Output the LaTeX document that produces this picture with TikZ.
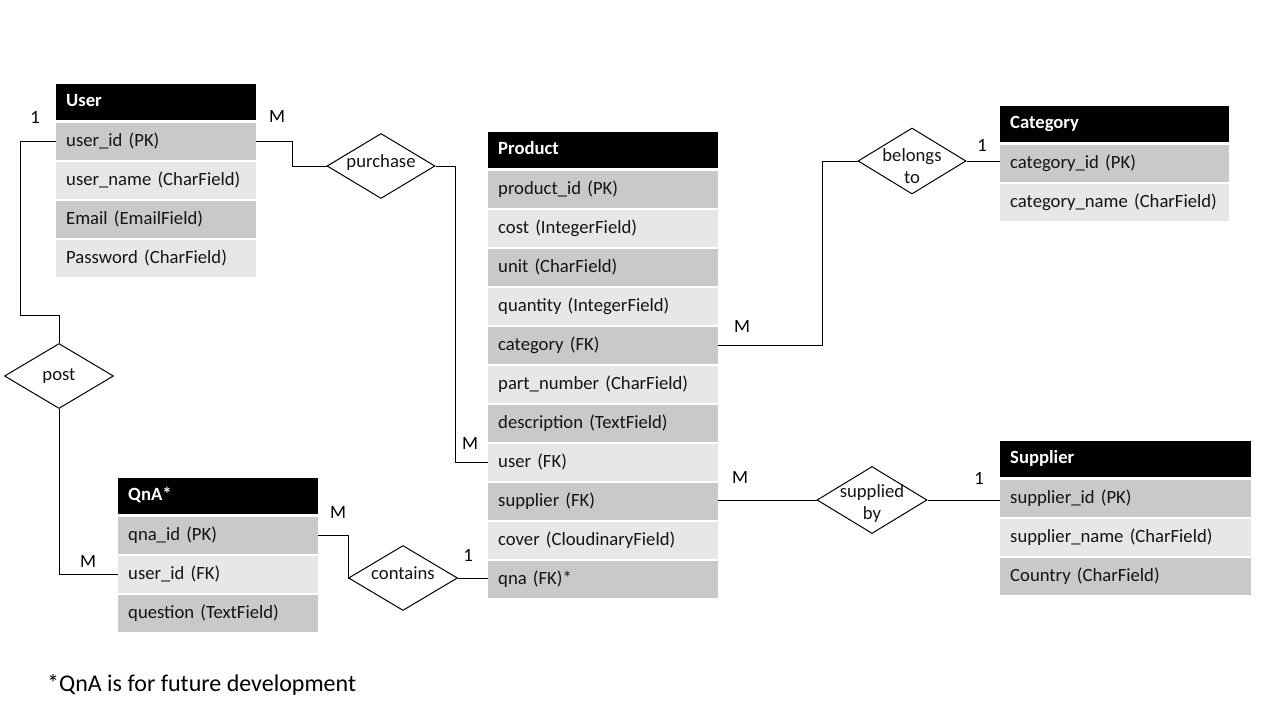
\documentclass[tikz,border=0pt]{standalone}
\usepackage{fontspec}
\setmainfont{Carlito}
\usetikzlibrary{shapes.geometric,calc}
\definecolor{rowdark}{RGB}{201,201,201}
\definecolor{rowlight}{RGB}{231,231,231}
\definecolor{txt}{RGB}{20,20,20}
\begin{document}
\begin{tikzpicture}[x=1pt,y=-1pt,
  font=\fontsize{18.67}{22}\selectfont,
  cell/.style={anchor=north west, inner xsep=10pt, inner ysep=0pt, minimum height=37pt,
    text height=13pt, text depth=4pt, align=left, text=txt},
  hdr/.style={cell, fill=black, text=white, font=\fontsize{18.67}{22}\selectfont\bfseries, minimum height=36pt},
  dk/.style={cell, fill=rowdark},
  lt/.style={cell, fill=rowlight},
  wuser/.style={text width=180pt},
  wprod/.style={text width=210pt},
  wcat/.style={text width=209pt},
  wsup/.style={text width=231pt},
  wqna/.style={text width=180pt},
  rel/.style={diamond, draw=black, line width=1pt, fill=white, inner sep=0pt},
  rlabel/.style={align=center, text=txt},
  conn/.style={draw=black, line width=1pt},
  card/.style={text=black}
]
\useasboundingbox (0,0) rectangle (1280,720);

% User
\node[hdr,wuser] (user) at (56,84) {User};
\node[dk,wuser] (uid) at (56,123) {user\_id (PK)};
\node[lt,wuser] (uname) at (56,162) {user\_name (CharField)};
\node[dk,wuser] (umail) at (56,201) {Email (EmailField)};
\node[lt,wuser] (upass) at (56,240) {Password (CharField)};

% Product
\node[hdr,wprod] (prod) at (488,132) {Product};
\node[dk,wprod] (pid) at (488,171) {product\_id (PK)};
\node[lt,wprod] (pcost) at (488,210) {cost (IntegerField)};
\node[dk,wprod] (punit) at (488,249) {unit (CharField)};
\node[lt,wprod] (pqty) at (488,288) {quantity (IntegerField)};
\node[dk,wprod] (pcat) at (488,327) {category (FK)};
\node[lt,wprod] (ppart) at (488,366) {part\_number (CharField)};
\node[dk,wprod] (pdesc) at (488,405) {description (TextField)};
\node[lt,wprod] (puser) at (488,444) {user (FK)};
\node[dk,wprod] (psup) at (488,483) {supplier (FK)};
\node[lt,wprod] (pcover) at (488,522) {cover (CloudinaryField)};
\node[dk,wprod] (pqna) at (488,561) {qna (FK)*};

% Category
\node[hdr,wcat] (cat) at (1000,106) {Category};
\node[dk,wcat] (cid) at (1000,145) {category\_id (PK)};
\node[lt,wcat] (cname) at (1000,184) {category\_name (CharField)};

% Supplier
\node[hdr,wsup] (sup) at (1000,441) {Supplier};
\node[dk,wsup] (sid) at (1000,480) {supplier\_id (PK)};
\node[lt,wsup] (sname) at (1000,519) {supplier\_name (CharField)};
\node[dk,wsup] (scountry) at (1000,558) {Country (CharField)};

% QnA
\node[hdr,wqna] (qna) at (118,478) {QnA*};
\node[dk,wqna] (qid) at (118,517) {qna\_id (PK)};
\node[lt,wqna] (quid) at (118,556) {user\_id (FK)};
\node[dk,wqna] (qq) at (118,595) {question (TextField)};

% Relationships
\node[rel, minimum width=108pt, minimum height=65pt, label={[rlabel,yshift=3pt]center:purchase}] (pur) at (381,166) {};
\node[rel, minimum width=109pt, minimum height=65pt, label={[rlabel]center:post}] (post) at (59,376) {};
\node[rel, minimum width=109pt, minimum height=65pt, label={[rlabel,yshift=5pt]center:contains}] (con) at (403,578) {};
\node[rel, minimum width=108pt, minimum height=66pt, label={[rlabel,yshift=-5pt]center:{belongs\\to}}] (bel) at (912,161) {};
\node[rel, minimum width=110pt, minimum height=67pt, label={[rlabel,yshift=-4pt]center:{supplied\\by}}] (spl) at (872,500) {};

% Connectors
\draw[conn] (uid.east) -- ++(36,0) |- (pur.west);
\draw[conn] (pur.east) -- ++(20,0) |- (puser.west);
\draw[conn] (uid.west) -- ++(-36,0) -- ++(0,174) -| (post.north);
\draw[conn] (post.south) |- (quid.west);
\draw[conn] (qid.east) -- ++(30,0) |- (con.west);
\draw[conn] (con.east) -- (pqna.west |- con.east);
\draw[conn] (pcat.east) -- ++(104,0) |- (bel.west);
\draw[conn] (bel.east) -- (cid.west |- bel.east);
\draw[conn] (psup.east |- spl.west) -- (spl.west);
\draw[conn] (spl.east) -- (sid.west |- spl.east);

% Cardinalities
\node[card] (c1) at (35,117) {1};
\node[card] (c2) at (277,117) {M};
\node[card] (c3) at (470,444) {M};
\node[card] (c4) at (88,562) {M};
\node[card] (c5) at (338,513) {M};
\node[card] (c6) at (468,555) {1};
\node[card] (c7) at (742,327) {M};
\node[card] (c8) at (982,145) {1};
\node[card] (c9) at (740,478) {M};
\node[card] (c10) at (979,478) {1};

% Footnote
\node[anchor=west, text=black, font=\fontsize{24}{28}\selectfont, inner sep=0pt] (note) at (47,685) {*QnA is for future development};
\end{tikzpicture}
\end{document}
